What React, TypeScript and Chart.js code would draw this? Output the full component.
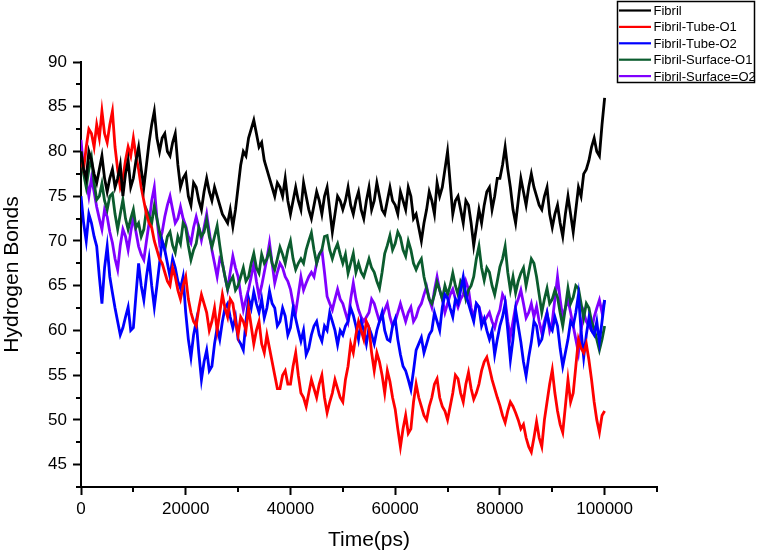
import React, { useEffect, useRef } from "react";
import { Chart, registerables } from "chart.js";

Chart.register(...registerables);

// Sample times (ps): one sample every 500 ps from 0 to 100000
const timeStepPs = 500;

const fibril = [
  80, 78, 77, 80, 79, 77.5, 76.5, 78, 79.5, 77, 75.5, 77, 78, 76, 77, 78.5, 75, 77.5, 79, 76,
  77, 79, 80.5, 78, 76, 78.5, 81, 83, 84.5, 81.5, 80, 81.5, 82, 80, 79.5, 81, 82, 78.5, 76, 77,
  77.5, 75, 74, 76.5, 76, 74.5, 73.5, 75.5, 77, 75.5, 74.5, 76, 75, 74, 73, 72.5, 72, 73.5, 71.6, 73.5,
  76, 78.5, 80, 79.5, 81.5, 82.5, 83.5, 82, 80.5, 81, 79, 78, 77, 76, 75, 76.5, 76, 75, 77, 74.5,
  73, 74.5, 76, 74.5, 73.5, 76.5, 75, 73.5, 72.5, 74, 75.5, 74.5, 73, 75, 76, 73.5, 71, 73, 75, 74.5,
  73.5, 74.5, 76, 74, 73, 74.5, 75.5, 73.5, 72.5, 74.5, 76, 73.5, 74.5, 76.5, 75, 73.5, 73, 74.5, 76, 74.5,
  74, 73, 75.5, 74.5, 73.5, 76, 75, 72.5, 73, 71.5, 70, 72, 73.5, 75.5, 74.5, 73, 76.5, 75, 76, 78,
  80, 76.5, 73, 74.5, 75, 73.5, 72, 74.5, 74, 72, 69.5, 71.5, 73.5, 72, 74, 75.5, 76, 73.5, 75, 77,
  77, 78.5, 80.5, 78, 76, 73.5, 72, 74.5, 77, 75.5, 74, 76, 77.5, 76, 75, 74, 73.5, 75, 76, 73,
  71.5, 73, 74, 72, 70.5, 73, 75, 73, 71, 73.5, 76, 75, 77.5, 78, 79, 80.5, 81.5, 80, 79.5, 83,
  86,
];

const tubeO1 = [
  79, 78, 80.5, 82.5, 82, 80.5, 83, 81.5, 84.5, 82, 81, 83, 84.5, 80.5, 78, 76, 77, 79, 80.5, 79.5,
  81.5, 79.5, 78, 76, 74.5, 73, 72, 71.5, 70, 69, 68, 67.5, 66.5, 65.5, 65, 67, 66, 64.5, 63.5, 65,
  66, 63.5, 62, 61, 60.5, 62.5, 64, 63, 62, 60, 61, 62.5, 60, 62, 64, 62.5, 61.5, 63.5, 63, 61,
  59.5, 61.5, 61, 60, 62.5, 60.5, 58.5, 60, 61, 58.5, 57.5, 59.5, 58, 56.5, 55, 53.5, 53.5, 55, 55.5, 54,
  54, 56, 57.5, 55, 53, 52.5, 51.5, 53, 54.5, 53.5, 52.5, 54, 55, 52.5, 50.8, 52, 53, 54.5, 53.5, 52.5,
  52, 54.5, 56, 58.5, 57.5, 59.5, 61, 60, 59, 61, 60.3, 57.5, 55.5, 57.5, 56.5, 55, 53, 55.5, 54.3, 52.5,
  51.2, 49, 47, 49, 50.5, 48.5, 49, 52, 54, 52.5, 51.5, 50.5, 50, 51.5, 52.5, 54, 54.6, 52.5, 51.5, 51,
  50, 51.5, 53, 55, 54.6, 53, 52, 54, 55.3, 53.5, 52.3, 53, 54, 55.5, 56.5, 57, 55.8, 54.5, 53.5, 52.5,
  51.6, 50.5, 49.7, 51, 52, 51.5, 50.8, 50, 49, 49.5, 48, 47, 46.4, 48, 49.8, 48, 47, 50, 52, 54,
  55.6, 53, 51, 49.5, 48.6, 51.5, 54.5, 52, 53, 56, 59, 58, 57.5, 58.5, 56.7, 54.5, 52, 50, 48.6, 50.5,
  51,
];

const tubeO2 = [
  75, 72, 70, 73, 72, 70.5, 69.4, 66, 63, 67, 69.4, 66, 64.2, 62.5, 61, 59.5, 60.3, 61.5, 62.6, 60,
  60.3, 64, 67.5, 65, 63.4, 66, 68, 65, 62.6, 65, 67.5, 70, 69, 67.5, 66, 68, 67, 65.5, 64.7, 66,
  62, 59, 57, 59.5, 61, 57.5, 54.5, 56.5, 57.8, 55.5, 56, 58.5, 60.3, 59, 61, 62.5, 63, 61.5, 60.3, 61.5,
  59, 58.5, 57.8, 61, 63.6, 62.5, 64.3, 63, 62, 63.5, 61.4, 62.5, 64.4, 63, 62.5, 60.5, 61, 62.5, 61.6, 59.5,
  60.3, 62.5, 61.3, 60, 58.8, 60, 57.3, 58, 59.5, 60.5, 61, 59.5, 58.8, 60.5, 60, 62, 61, 60, 58.4, 60,
  59.5, 60.5, 61, 62.5, 61.7, 60.5, 59, 61, 60, 58.5, 60.3, 59.5, 58.5, 60, 61, 62, 60, 59, 58.8, 60.5,
  61.3, 59, 57.3, 56, 55.5, 54.5, 53.4, 55.5, 57.8, 58.5, 59.2, 57.5, 58.5, 59.5, 60, 62, 61, 60, 62.6, 64,
  63.6, 62.5, 61.5, 63.5, 63, 64.5, 66, 64, 63, 62, 61, 63, 62.6, 60.5, 61.3, 60, 59, 60, 57.3, 59,
  60.5, 61.5, 63, 60, 56.7, 59, 62.3, 60.5, 58.7, 56.5, 54.9, 57, 58.7, 61, 60.5, 58.5, 59, 60.5, 61.9, 60.5,
  60, 61.5, 60.5, 58, 56, 57.5, 59, 61, 60.5, 62, 64, 60, 57, 59.5, 61.4, 60, 59.5, 61, 58.7, 61,
  63.4,
];

const surfaceO1 = [
  80, 77.5, 76, 78, 79.3, 76.5, 74.6, 75, 76.4, 74.5, 73.5, 75, 75.3, 73, 71.3, 73, 74.6, 72.5, 71.3, 72.5,
  73.5, 71.5, 72, 70.5, 71.3, 73.5, 72.8, 72, 73.9, 72.5, 71, 70, 69, 70.5, 71, 69.5, 68.7, 70.5, 69.7, 72,
  71.5, 69.5, 67.9, 69, 69.7, 71.5, 70.5, 71, 72.4, 70.5, 69.3, 70.5, 71.7, 69.5, 67.5, 66, 64.6, 65.5, 66, 64.5,
  65, 66, 67, 65.5, 66, 67.5, 68.6, 67, 66.4, 68.5, 67.5, 68, 69, 67.5, 66.8, 68, 69.3, 68.5, 67.5, 69,
  70, 68, 66.8, 67.5, 68, 67.5, 69, 70, 70.9, 69, 67.5, 68.5, 69, 70.5, 70.6, 69, 68, 69, 69.7, 68.5,
  67.5, 68.5, 66.4, 67.5, 68.6, 66.5, 67.5, 66.5, 66, 67, 68, 67, 66.5, 65.5, 64.7, 66.5, 68.6, 69.5, 70.6, 69,
  69.7, 71, 70.4, 69, 68.3, 70, 69, 67.5, 66.8, 67.5, 68, 66, 64.7, 63.5, 63, 64, 65.4, 64.5, 63.5, 65,
  64, 65, 66.4, 65, 64, 65.5, 65, 63.5, 64.5, 65, 66, 68, 69.4, 67, 65.6, 67, 66.5, 65, 64, 65.5,
  67.1, 68, 69.4, 66.5, 64.5, 66, 64.2, 65.5, 66.4, 67, 65, 66.5, 68, 67.5, 66, 64, 62, 63.5, 64.7, 63,
  63.5, 64.5, 63.7, 62, 60.5, 62.5, 64.7, 63, 63.7, 65, 64.7, 63, 61.4, 63, 62.5, 61, 60.2, 59, 57.8, 59,
  60.5,
];

const surfaceO2 = [
  81.3, 78, 76.8, 75, 77, 75.5, 73.8, 72.5, 71.3, 73.5, 72.7, 71, 69.8, 68, 66.8, 69.5, 71.3, 70.5, 69, 71,
  72.7, 71, 69.4, 68.5, 67.9, 70, 72, 74.5, 76, 72.5, 69.8, 71, 72.7, 74, 75, 73.5, 72, 72.5, 73.8, 72.5,
  71.7, 70.5, 69.8, 71.5, 72.7, 71.5, 70.1, 71.5, 73, 71, 69, 67.5, 66, 68, 67.5, 66, 64.6, 66.5, 68.3, 67,
  66, 64, 62.3, 63.5, 64.6, 66, 67.5, 65.5, 63.8, 65, 66.5, 68, 69.8, 67.5, 65.3, 66.5, 67.5, 67, 66, 65.5,
  64.6, 63, 62, 64, 66, 64.5, 65.3, 66, 66.5, 66, 67.5, 68.5, 69, 66.5, 63.8, 63, 62.3, 63.5, 64.6, 63.5,
  63, 62, 61, 63.5, 65.3, 63.5, 62.3, 61.5, 61, 61.5, 62, 63.5, 63, 62, 61, 61.5, 62.3, 63, 61.5, 60.5,
  61, 62, 63, 62, 61, 62, 62.6, 61, 61.5, 62.5, 63, 64, 64.9, 63.5, 62.6, 64.5, 66, 64.5, 63.5, 62,
  63, 64, 64.6, 63.5, 62.6, 63.5, 64, 65.5, 64.6, 62.5, 61.5, 63, 62.6, 61.5, 61, 61.5, 62, 61, 60.3, 61.5,
  62.3, 64, 63.4, 61, 59.3, 61, 62.7, 63.5, 64.5, 63, 61.4, 62, 63, 61.5, 62.7, 61, 59.7, 61, 62, 60,
  61, 63.5, 66, 63.5, 61.4, 62.5, 63.4, 62, 60.5, 59, 57.5, 60, 62, 61, 60.5, 60, 61.5, 62.5, 63.4, 62,
  63.4,
];

const seriesLabels = [
  "Fibril",
  "Fibril-Tube-O1",
  "Fibril-Tube-O2",
  "Fibril-Surface-O1",
  "Fibril-Surface=O2",
];
const seriesColors = ["#000000", "#ff0000", "#0000ff", "#0b5c2e", "#8000ff"];
const seriesValues = [fibril, tubeO1, tubeO2, surfaceO1, surfaceO2];

const xTickValues = [0, 20000, 40000, 60000, 80000, 100000];
const xMinorTickValues = [10000, 30000, 50000, 70000, 90000, 110000];
const yTickValues = [45, 50, 55, 60, 65, 70, 75, 80, 85, 90];
const yMinorTickValues = [42.5, 47.5, 52.5, 57.5, 62.5, 67.5, 72.5, 77.5, 82.5, 87.5];

const FONT = '"Liberation Sans", Arial, Helvetica, sans-serif';

const extrasPlugin = {
  id: "extras",
  afterDraw(chart: any) {
    const ctx = chart.ctx;
    const xs = chart.scales.x;
    const ys = chart.scales.y;
    const area = chart.chartArea;
    ctx.save();
    ctx.strokeStyle = "#000";
    ctx.lineWidth = 2;
    ctx.beginPath();
    for (const v of xMinorTickValues) {
      const px = Math.round(xs.getPixelForValue(v));
      ctx.moveTo(px, area.bottom);
      ctx.lineTo(px, area.bottom + 5);
    }
    for (const v of yMinorTickValues) {
      const py = Math.round(ys.getPixelForValue(v));
      ctx.moveTo(area.left, py);
      ctx.lineTo(area.left - 5, py);
    }
    ctx.stroke();

    // legend box
    const bx = 617.5, by = 1.5, bw = 137, bh = 81;
    ctx.fillStyle = "#fff";
    ctx.fillRect(bx, by, bw, bh);
    ctx.lineWidth = 1.5;
    ctx.strokeStyle = "#000";
    ctx.strokeRect(bx, by, bw, bh);
    ctx.font = `13px ${FONT}`;
    ctx.textBaseline = "middle";
    ctx.textAlign = "left";
    chart.data.datasets.forEach((ds: any, i: number) => {
      const y = 10.5 + i * 16.4;
      ctx.strokeStyle = ds.borderColor;
      ctx.lineWidth = 2.2;
      ctx.beginPath();
      ctx.moveTo(619, y);
      ctx.lineTo(651, y);
      ctx.stroke();
      ctx.fillStyle = "#000";
      ctx.fillText(ds.label, 653.5, y + 1);
    });
    ctx.restore();
  },
};

export default function App() {
  const ref = useRef<HTMLCanvasElement | null>(null);
  useEffect(() => {
    if (!ref.current) return;
    const datasets = seriesValues.map((vals, i) => ({
      label: seriesLabels[i],
      data: vals.map((v, k) => ({ x: k * timeStepPs, y: v })),
      borderColor: seriesColors[i],
      backgroundColor: seriesColors[i],
      borderWidth: 2.8,
      pointRadius: 0,
      tension: 0,
      fill: false,
    }));
    const chart = new Chart(ref.current, {
      type: "line",
      data: { datasets },
      plugins: [extrasPlugin],
      options: {
        responsive: false,
        animation: false,
        layout: { padding: { top: 62, right: 100, left: 0, bottom: 0 } },
        plugins: { legend: { display: false }, tooltip: { enabled: false } },
        scales: {
          x: {
            type: "linear",
            min: 0,
            max: 110000,
            afterBuildTicks: (s: any) => {
              s.ticks = xTickValues.map((v) => ({ value: v }));
            },
            afterFit: (s: any) => {
              s.height = 66;
            },
            grid: {
              drawOnChartArea: false,
              drawTicks: true,
              tickLength: 8,
              tickWidth: 2,
              tickColor: "#000",
            },
            border: { display: true, color: "#000", width: 2 },
            ticks: {
              color: "#000",
              font: { family: FONT, size: 17 },
              padding: 4,
              maxRotation: 0,
              autoSkip: false,
              callback: (v: any) => String(v),
            },
            title: {
              display: true,
              text: "Time(ps)",
              color: "#000",
              font: { family: FONT, size: 21 },
              padding: { top: 0, bottom: 0 },
            },
          },
          y: {
            type: "linear",
            min: 42.5,
            max: 90,
            afterBuildTicks: (s: any) => {
              s.ticks = yTickValues.map((v) => ({ value: v }));
            },
            afterFit: (s: any) => {
              s.width = 81;
            },
            grid: {
              drawOnChartArea: false,
              drawTicks: true,
              tickLength: 8,
              tickWidth: 2,
              tickColor: "#000",
            },
            border: { display: true, color: "#000", width: 2 },
            ticks: {
              color: "#000",
              font: { family: FONT, size: 17 },
              padding: 6,
              autoSkip: false,
              callback: (v: any) => String(v),
            },
            title: {
              display: true,
              text: "Hydrogen Bonds",
              color: "#000",
              font: { family: FONT, size: 21 },
              padding: { top: 0, bottom: 0 },
            },
          },
        },
      },
    } as any);
    return () => chart.destroy();
  }, []);
  return (
    <div style={{ position: "fixed", left: 0, top: 0, width: 757, height: 553, background: "#fff" }}>
      <canvas ref={ref} width={757} height={553} style={{ width: 757, height: 553, display: "block" }} />
    </div>
  );
}
